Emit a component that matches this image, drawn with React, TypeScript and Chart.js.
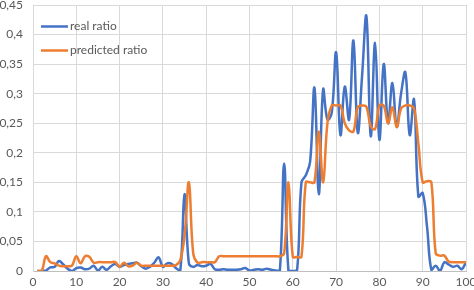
import React, { useEffect, useRef } from "react";
import { Chart, registerables } from "chart.js";

Chart.register(...registerables);

const seriesLabels = ["real ratio", "predicted ratio"];
const seriesColors = ["#4472C4", "#ED7D31"];

const xValues = Array.from({ length: 100 }, (_, i) => i + 1);

const realRatio = [
  0, 0, 0.001, 0.006, 0.007, 0.017, 0.011, 0.004, 0.0, 0.005,
  0.006, 0.003, 0.004, 0.009, 0.001, 0.007, 0.002, 0.008, 0.012, 0.007,
  0.01, 0.012, 0.013, 0.014, 0.008, 0.004, 0.007, 0.014, 0.023, 0.007,
  0.013, 0.012, 0.005, 0.0, 0.13, 0.013, 0.007, 0.01, 0.008, 0.009,
  0.012, 0.003, 0.002, 0.003, 0.002, 0.002, 0.002, 0.003, 0.005, 0.001,
  0.002, 0.003, 0.002, 0.004, 0.002, 0.001, 0.0, 0.182, 0.0, 0.0,
  0.002, 0.15, 0.162, 0.185, 0.31, 0.13, 0.307, 0.256, 0.268, 0.37,
  0.23, 0.312, 0.256, 0.39, 0.234, 0.33, 0.431, 0.228, 0.386, 0.222,
  0.35, 0.25, 0.318, 0.244, 0.3, 0.336, 0.23, 0.29, 0.126, 0.132,
  0.075, 0.002, 0.009, 0.0, 0.015, 0.011, 0.007, 0.009, 0.003, 0.015,
];

const predictedRatio = [
  0, 0, 0.025, 0.015, 0.013, 0.009, 0.008, 0.008, 0.009, 0.025,
  0.013, 0.025, 0.024, 0.014, 0.015, 0.015, 0.015, 0.015, 0.015, 0.007,
  0.014, 0.008, 0.009, 0.014, 0.009, 0.009, 0.009, 0.009, 0.009, 0.009,
  0.009, 0.009, 0.01, 0.018, 0.06, 0.15, 0.03, 0.014, 0.015, 0.015,
  0.015, 0.015, 0.025, 0.025, 0.025, 0.025, 0.025, 0.025, 0.025, 0.025,
  0.025, 0.025, 0.025, 0.025, 0.025, 0.025, 0.025, 0.03, 0.15, 0.024,
  0.024, 0.024, 0.15, 0.15, 0.15, 0.236, 0.15, 0.25, 0.28, 0.28,
  0.28, 0.25, 0.238, 0.236, 0.277, 0.28, 0.278, 0.245, 0.24, 0.28,
  0.28, 0.25, 0.277, 0.243, 0.275, 0.28, 0.28, 0.275, 0.215, 0.15,
  0.152, 0.15, 0.03, 0.026, 0.026, 0.016, 0.015, 0.015, 0.015, 0.015,
];

const X_MIN = 0;
const X_MAX = 100;
const X_STEP = 10;
const Y_MIN = 0;
const Y_MAX = 0.45;
const Y_STEP = 0.05;

const FONT = "Lato";
const TEXT_COLOR = "#595959";
const GRID_COLOR = "#d9d9d9";

const insideLegend = {
  id: "insideLegend",
  afterDatasetsDraw(chart: any) {
    const { ctx, chartArea } = chart;
    ctx.save();
    chart.data.datasets.forEach((ds: any, i: number) => {
      const y = Math.round(chartArea.top + 20.5 + i * 24.7) + 0.5;
      const x0 = chartArea.left + 8;
      ctx.strokeStyle = ds.borderColor;
      ctx.lineWidth = 2.5;
      ctx.beginPath();
      ctx.moveTo(x0, y);
      ctx.lineTo(x0 + 27, y);
      ctx.stroke();
      ctx.fillStyle = TEXT_COLOR;
      ctx.font = `12px ${FONT}`;
      ctx.textBaseline = "middle";
      ctx.textAlign = "left";
      ctx.fillText(ds.label, x0 + 29, y);
    });
    ctx.restore();
  },
};

export default function App() {
  const canvasRef = useRef<HTMLCanvasElement | null>(null);

  useEffect(() => {
    document.body.style.margin = "0";
    const canvas = canvasRef.current;
    if (!canvas) return;
    const chart = new Chart(canvas, {
      type: "line",
      data: {
        datasets: [
          {
            label: seriesLabels[0],
            data: xValues.map((x, i) => ({ x, y: realRatio[i] })),
            borderColor: seriesColors[0],
            backgroundColor: seriesColors[0],
            borderWidth: 2.5,
            pointRadius: 0,
            tension: 0.4,
            fill: false,
            order: 1,
          },
          {
            label: seriesLabels[1],
            data: xValues.map((x, i) => ({ x, y: predictedRatio[i] })),
            borderColor: seriesColors[1],
            backgroundColor: seriesColors[1],
            borderWidth: 2.5,
            pointRadius: 0,
            tension: 0.4,
            fill: false,
            order: 0,
          },
        ],
      },
      options: {
        animation: false,
        responsive: false,
        maintainAspectRatio: false,
        devicePixelRatio: 1,
        layout: { padding: { top: 5, right: 8, left: 0, bottom: 0 } },
        plugins: {
          legend: { display: false },
          tooltip: { enabled: false },
        },
        scales: {
          x: {
            type: "linear",
            min: X_MIN,
            max: X_MAX,
            ticks: {
              stepSize: X_STEP,
              color: TEXT_COLOR,
              font: { family: FONT, size: 12 },
              padding: 4,
              maxRotation: 0,
            },
            grid: { color: GRID_COLOR, drawTicks: false, lineWidth: 1 },
            border: { color: "#bfbfbf", width: 1 },
            afterFit: (scale: any) => {
              scale.height = 19;
              scale.paddingLeft = 0;
              scale.paddingRight = 0;
            },
          },
          y: {
            type: "linear",
            min: Y_MIN,
            max: Y_MAX,
            ticks: {
              stepSize: Y_STEP,
              color: TEXT_COLOR,
              font: { family: FONT, size: 12 },
              padding: 10,
              callback: (v: any) =>
                String(Math.round(Number(v) * 100) / 100).replace(".", ","),
            },
            grid: { color: GRID_COLOR, drawTicks: false, lineWidth: 1 },
            border: { color: GRID_COLOR, width: 1 },
            afterFit: (scale: any) => {
              scale.width = 33;
              scale.paddingTop = 0;
              scale.paddingBottom = 0;
            },
          },
        },
      },
      plugins: [insideLegend],
    });
    return () => chart.destroy();
  }, []);

  return (
    <div style={{ width: 474, height: 290, position: "relative" }}>
      <canvas ref={canvasRef} width={474} height={290} style={{ width: 474, height: 290, display: "block" }} />
    </div>
  );
}
